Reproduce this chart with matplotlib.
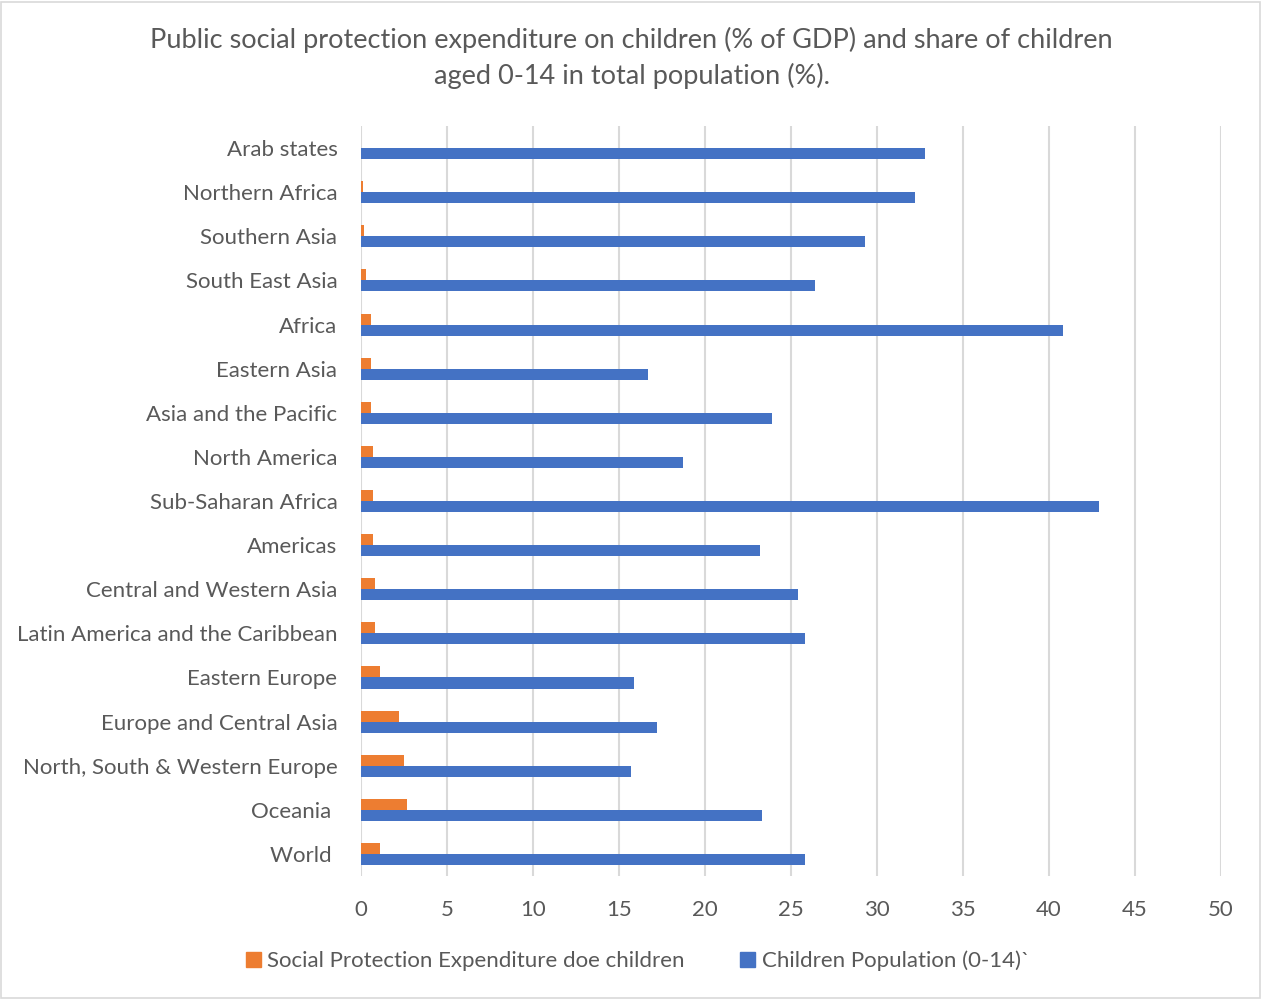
import numpy as np
import matplotlib.pyplot as plt
from matplotlib.patches import Patch, Rectangle

plt.rcParams['font.family'] = ['Lato', 'DejaVu Sans']

# Regions listed top to bottom
regions = [
    "Arab states", "Northern Africa", "Southern Asia", "South East Asia",
    "Africa", "Eastern Asia", "Asia and the Pacific", "North America",
    "Sub-Saharan Africa", "Americas", "Central and Western Asia",
    "Latin America and the Caribbean", "Eastern Europe",
    "Europe and Central Asia", "North, South & Western Europe",
    "Oceania ", "World ",
]

# Public social protection expenditure on children (% of GDP)
spending = [0.0, 0.1, 0.2, 0.3, 0.6, 0.6, 0.6, 0.7, 0.7, 0.7, 0.8, 0.8,
            1.1, 2.2, 2.5, 2.7, 1.1]

# Children aged 0-14 as share of total population (%)
children = [32.8, 32.2, 29.3, 26.4, 40.8, 16.7, 23.9, 18.7, 42.9, 23.2,
            25.4, 25.8, 15.9, 17.2, 15.7, 23.3, 25.8]

ORANGE = '#ED7D31'
BLUE = '#4472C4'
TEXT = '#595959'
GRID = '#D9D9D9'

fig = plt.figure(figsize=(12.63, 9.99), dpi=100)
ax = fig.add_axes([361 / 1263, 1 - 876 / 999, 860 / 1263, 750 / 999])

y = np.arange(len(regions))
h = 0.25
ax.barh(y - h / 2, spending, height=h, color=ORANGE,
        label='Social Protection Expenditure doe children')
ax.barh(y + h / 2, children, height=h, color=BLUE,
        label='Children Population (0-14)`')

ax.set_xlim(0, 50)
ax.set_ylim(len(regions) - 0.5, -0.5)
ax.set_xticks(np.arange(0, 51, 5))
ax.set_yticks(y)
ax.set_yticklabels(regions)

ax.grid(axis='x', color=GRID, linewidth=1.5)
ax.set_axisbelow(True)
for s in ax.spines.values():
    s.set_visible(False)
ax.tick_params(axis='both', length=0, labelsize=16, labelcolor=TEXT)
ax.tick_params(axis='x', pad=17)
ax.tick_params(axis='y', pad=17)

fig.text(0.5, 1 - 58 / 999,
         'Public social protection expenditure on children (% of GDP) and share of children\n'
         'aged 0-14 in total population (%).',
         ha='center', va='center', fontsize=19.5, color=TEXT, linespacing=1.47)

handles = [Patch(color=ORANGE), Patch(color=BLUE)]
labels = ['Social Protection Expenditure doe children', 'Children Population (0-14)`']
leg = fig.legend(handles, labels, loc='center', ncol=2, frameon=False,
                 bbox_to_anchor=(0.505, 1 - 961 / 999), fontsize=16,
                 handlelength=0.65, handleheight=0.65, handletextpad=0.3,
                 columnspacing=2.5)
for t in leg.get_texts():
    t.set_color(TEXT)

fig.patches.append(Rectangle((0.001, 0.001), 0.997, 0.997, transform=fig.transFigure,
                             fill=False, edgecolor=GRID, linewidth=1.2))

fig.savefig('out.png', dpi=100, facecolor='white')
